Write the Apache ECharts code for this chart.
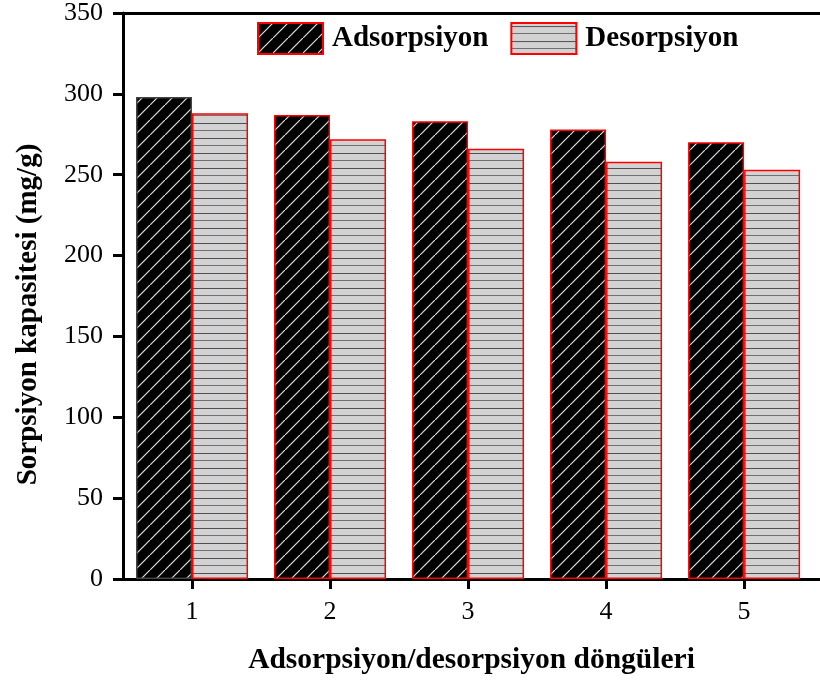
<!DOCTYPE html>
<html>
<head>
<meta charset="utf-8">
<script src="https://cdn.jsdelivr.net/npm/echarts@6/dist/echarts.min.js"></script>
<style>
html,body{margin:0;padding:0;background:#fff;}
#chart{width:820px;height:680px;}
</style>
</head>
<body>
<div id="chart"></div>
<script>
// ---- data ----
const cycles = [1, 2, 3, 4, 5];
const adsorption = [298, 287, 283, 278, 270];
const desorption = [288, 272, 266, 258, 253];
const yTicks = [0, 50, 100, 150, 200, 250, 300, 350];
const seriesNames = ['Adsorpsiyon', 'Desorpsiyon'];
const xTitle = 'Adsorpsiyon/desorpsiyon döngüleri';
const yTitle = 'Sorpsiyon kapasitesi (mg/g)';

const FONT = "'Liberation Serif', 'Times New Roman', serif";

function hatchPattern() {
  const c = document.createElement('canvas');
  c.width = 15; c.height = 15;
  const g = c.getContext('2d');
  g.fillStyle = '#000';
  g.fillRect(0, 0, 15, 15);
  g.strokeStyle = '#e0e0e0';
  g.lineWidth = 1.2;
  g.beginPath();
  g.moveTo(-1, 16); g.lineTo(16, -1);
  g.stroke();
  return c;
}
function linePattern() {
  const c = document.createElement('canvas');
  c.width = 8; c.height = 15;
  const g = c.getContext('2d');
  g.fillStyle = '#d2d2d2';
  g.fillRect(0, 0, 8, 15);
  g.fillStyle = '#505050';
  g.fillRect(0, 3, 8, 1);
  g.fillStyle = '#707070';
  g.fillRect(0, 10, 8, 1);
  return c;
}

const adsData = cycles.map((c, i) => i === 0
  ? { value: [c, adsorption[i]], itemStyle: { borderColor: '#444' } }
  : [c, adsorption[i]]);
const desData = cycles.map((c, i) => [c, desorption[i]]);

const chart = echarts.init(document.getElementById('chart'));
chart.setOption({
  backgroundColor: '#fff',
  animation: false,
  textStyle: { fontFamily: FONT, color: '#000' },
  grid: { left: 123, right: 0, top: 13, bottom: 101 },
  legend: {
    left: 257, top: 22, padding: 0,
    itemWidth: 65, itemHeight: 31, itemGap: 22,
    icon: 'rect',
    textStyle: { fontFamily: FONT, fontSize: 29, fontWeight: 'bold', color: '#000', padding: [0, 0, 0, 4] },
    data: seriesNames
  },
  xAxis: [{
    type: 'value', min: 0.5, max: 5.55,
    name: xTitle, nameLocation: 'middle', nameGap: 66,
    nameTextStyle: { fontFamily: FONT, fontSize: 29.5, fontWeight: 'bold', color: '#000' },
    axisLine: { show: true, lineStyle: { color: '#000', width: 3 } },
    axisTick: { show: true, length: 10, lineStyle: { color: '#000', width: 3 }, customValues: cycles },
    axisLabel: { fontFamily: FONT, fontSize: 26, color: '#000', margin: 20, customValues: cycles },
    splitLine: { show: false }
  }, {
    type: 'value', min: 0.5, max: 5.55, position: 'top',
    axisLine: { show: true, lineStyle: { color: '#000', width: 3 } },
    axisTick: { show: false }, axisLabel: { show: false }, splitLine: { show: false }
  }],
  yAxis: {
    type: 'value', min: yTicks[0], max: yTicks[yTicks.length - 1], interval: 50,
    name: yTitle, nameLocation: 'middle', nameGap: 80, nameRotate: 90,
    nameTextStyle: { fontFamily: FONT, fontSize: 29, fontWeight: 'bold', color: '#000', padding: [0, 37, 0, 0] },
    axisLine: { show: true, lineStyle: { color: '#000', width: 3 } },
    axisTick: { show: true, length: 10, lineStyle: { color: '#000', width: 3 } },
    axisLabel: { fontFamily: FONT, fontSize: 26, color: '#000', margin: 20 },
    splitLine: { show: false }
  },
  series: [{
    name: seriesNames[0], type: 'bar', barWidth: 56, barGap: '0%',
    itemStyle: { color: { image: hatchPattern(), repeat: 'repeat' }, borderColor: '#ff0000', borderWidth: 1.5 },
    data: adsData
  }, {
    name: seriesNames[1], type: 'bar', barWidth: 56, barGap: '0%',
    itemStyle: { color: { image: linePattern(), repeat: 'repeat' }, borderColor: '#ff0000', borderWidth: 1.5 },
    data: desData
  }]
});
</script>
</body>
</html>
